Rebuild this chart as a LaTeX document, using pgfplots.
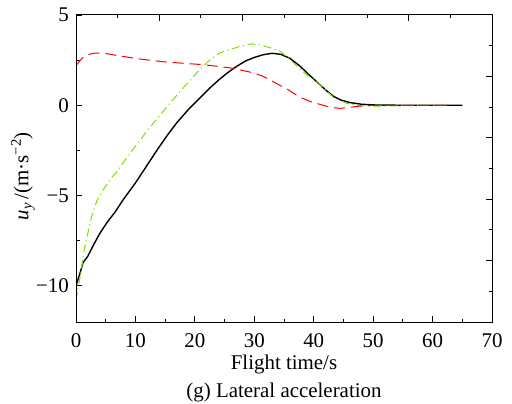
\documentclass[border=0pt]{standalone}
\usepackage{fontspec}
\setmainfont{Liberation Serif}
\usepackage{pgfplots}
\pgfplotsset{compat=1.18}
\definecolor{lgreen}{RGB}{120,228,0}
\begin{document}
\fontsize{21}{25}\selectfont
\begin{tikzpicture}
\useasboundingbox (-76bp,-82bp) rectangle (436bp,307bp+15bp);
\begin{axis}[
  name=main,
  scale only axis, width=416bp, height=307bp,
  xmin=0, xmax=70, ymin=-12, ymax=5,
  xtick={0,10,...,70}, minor xtick={5,15,...,65},
  ytick={-10,-5,0,5}, yticklabels={\textminus10,\textminus5,0,5},
  minor ytick={-7.5,-2.5,2.5},
  xtick pos=bottom, ytick pos=left,
  tick align=inside,
  major tick length=6bp, minor tick length=3.5bp,
  every tick/.style={black, line width=0.8bp},
  axis line style={line width=1bp},
  /pgf/number format/assume math mode=true,
  tick label style={font=\fontsize{21}{25}\selectfont},
  xticklabel style={yshift=-4bp},
  label style={font=\fontsize{21}{25}\selectfont},
  xlabel={Flight time/s},
  xlabel style={yshift=6bp},
  ylabel={{\itshape u}\textsubscript{\itshape y}\,/(m·s\textsuperscript{\textminus2})},
  ylabel style={at={(axis description cs:-0.082,0.475)}, anchor=south},
]
\addplot[black, line width=1.4bp] coordinates {
(0,-10.0) (0.67,-9.3) (1.2,-8.7) (2,-8.35) (3,-7.7) (4,-7.1) (5.2,-6.5) (6.6,-5.9) (8,-5.2) (10,-4.3) (12,-3.3) (13.8,-2.4) (15.5,-1.6) (17,-0.95) (19,-0.2) (20.9,0.42) (22.5,0.95) (24,1.4) (25.5,1.8) (27,2.15) (28.5,2.45) (30,2.65) (31.5,2.8) (33,2.88) (34.5,2.82) (36,2.6) (37.7,2.17) (39,1.75) (40.6,1.28) (42,0.85) (43.3,0.5) (44.5,0.3) (46.1,0.15) (48,0.06) (50,0.02) (55,0) (65,0)
};
\addplot[lgreen, line width=1bp, dash pattern=on 8bp off 3.5bp on 1.2bp off 3.5bp] coordinates {
(0,-10.8) (0.3,-10.2) (0.7,-9.5) (1.5,-7.8) (2.6,-6.2) (3.5,-5.3) (4.6,-4.67) (6,-4.0) (7.1,-3.6) (8,-3.15) (9.6,-2.44) (12,-1.4) (15,-0.2) (18,0.95) (20.9,2.0) (22.5,2.5) (24.2,2.9) (26,3.1) (27.5,3.25) (29.5,3.4) (31,3.35) (32.5,3.2) (34.3,3.0) (36,2.55) (37.7,2.0) (39,1.65) (40.6,1.3) (42,0.85) (43.3,0.44) (45.6,0.1) (48,-0.03) (50,-0.05) (55,-0.02) (62.5,0)
};
\addplot[red, line width=1bp, dash pattern=on 11bp off 6bp] coordinates {
(0,2.2) (1,2.6) (2,2.8) (3,2.88) (4.5,2.9) (7,2.75) (11,2.55) (15,2.4) (19.2,2.3) (21.4,2.25) (24,2.15) (26.4,2.05) (29.8,1.8) (31.5,1.6) (33.2,1.3) (35.5,0.9) (37.7,0.44) (39.5,0.2) (41.6,0.0) (43,-0.12) (44.4,-0.17) (46,-0.12) (47.3,-0.06) (50,0) (62.5,0)
};
\end{axis}
\node[anchor=base, font=\fontsize{21}{25}\selectfont] at ([yshift=-75bp]main.south) {(g) Lateral acceleration};
\begin{axis}[
  scale only axis, width=416bp, height=307bp,
  xmin=0, xmax=70, ymin=-12, ymax=5,
  xtick={14,28,42,56}, minor xtick={7,21,35,49,63},
  ytick={-8.6,-5.2,-1.8,1.6}, minor ytick={-10.3,-6.9,-3.5,-0.1,3.3},
  xtick pos=top, ytick pos=right,
  tick align=inside,
  major tick length=6bp, minor tick length=3.5bp,
  every tick/.style={black, line width=0.8bp},
  axis line style={line width=1bp},
  xticklabels={}, yticklabels={},
]
\end{axis}
\end{tikzpicture}
\end{document}
